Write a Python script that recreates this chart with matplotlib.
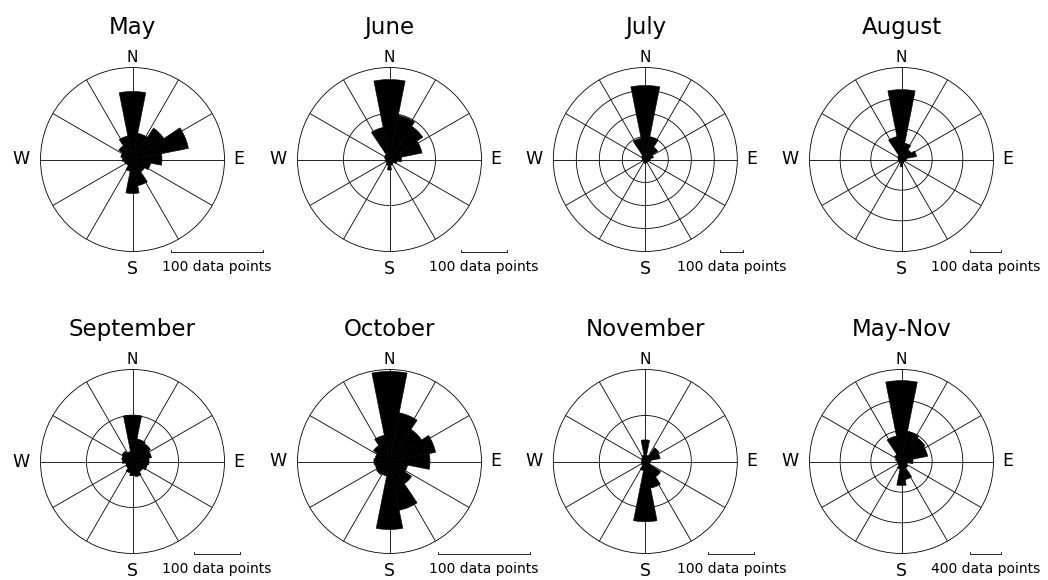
import numpy as np
import matplotlib
matplotlib.use("Agg")
import matplotlib.pyplot as plt

# Sixteen compass sectors, clockwise from north
directions = ["N", "NNE", "NE", "ENE", "E", "ESE", "SE", "SSE",
              "S", "SSW", "SW", "WSW", "W", "WNW", "NW", "NNW"]

titles = ["May", "June", "July", "August",
          "September", "October", "November", "May-Nov"]

# Counts of data points per direction sector
may = [74, 29, 41, 62, 32, 20, 16, 29, 37, 13, 8, 9, 11, 13, 18, 26]
june = [174, 98, 87, 72, 26, 17, 11, 13, 23, 13, 9, 7, 9, 11, 13, 71]
july = [322, 101, 65, 36, 22, 15, 12, 15, 18, 12, 10, 10, 12, 15, 20, 94]
august = [228, 54, 38, 50, 16, 12, 10, 12, 24, 12, 10, 8, 10, 12, 15, 76]
september = [101, 50, 47, 42, 36, 33, 27, 34, 31, 25, 17, 15, 22, 24, 27, 22]
october = [98, 54, 42, 51, 44, 20, 29, 54, 74, 16, 17, 16, 17, 16, 21, 29]
november = [47, 14, 36, 33, 12, 10, 40, 59, 131, 20, 10, 8, 8, 8, 10, 14]
may_nov = [1056, 400, 370, 348, 150, 80, 100, 240, 313, 100, 60, 50, 60, 80, 109, 339]

series = [may, june, july, august, september, october, november, may_nov]

# Outer circle value and ring spacing (also the scale-bar length)
outer_limits = [100, 200, 400, 300, 200, 100, 200, 1200]
ring_steps = [100, 100, 100, 100, 100, 100, 100, 400]

W, H = 1048, 580
R_PX = 92
col_cx = [132.5, 389.5, 645.3, 901.5]
row_cy = [159.5, 461.5]
scale_dx = [84, 94, 86, 84]

fig = plt.figure(figsize=(W / 100, H / 100), dpi=100)
fig.patch.set_facecolor("white")

theta = np.deg2rad(np.arange(16) * 22.5)
width = np.deg2rad(22.5)
ring_theta = np.linspace(0, 2 * np.pi, 361)
font = "DejaVu Sans"
line_kw = dict(color="black", lw=0.6)

for i, (title, vals) in enumerate(zip(titles, series)):
    row, col = divmod(i, 4)
    cx, cy = col_cx[col], row_cy[row]
    ax = fig.add_axes([(cx - R_PX) / W, 1 - (cy + R_PX) / H,
                       2 * R_PX / W, 2 * R_PX / H], projection="polar")
    ax.set_theta_zero_location("N")
    ax.set_theta_direction(-1)
    rmax = outer_limits[i]
    step = ring_steps[i]

    # spokes every 30 degrees and rings at each step
    for a in np.deg2rad(np.arange(0, 360, 30)):
        ax.plot([a, a], [0, rmax], zorder=1, **line_kw)
    for r in np.arange(step, rmax, step):
        ax.plot(ring_theta, np.full_like(ring_theta, r), zorder=1, **line_kw)

    ax.bar(theta, vals, width=width, color="black", edgecolor="black",
           linewidth=0.4, align="center", zorder=2)

    ax.set_ylim(0, rmax)
    ax.set_xticks([])
    ax.set_yticks([])
    ax.grid(False)
    ax.spines["polar"].set_linewidth(0.6)
    ax.spines["polar"].set_color("black")

    # title and compass letters
    ax.text(0.5, 0.5 + 132 / (2 * R_PX), title, transform=ax.transAxes,
            ha="center", va="center", fontsize=16.5, family=font)
    ax.text(0.5, 0.5 + 102 / (2 * R_PX), "N", transform=ax.transAxes,
            ha="center", va="center", fontsize=11, family=font)
    ax.text(0.5 + 106.5 / (2 * R_PX), 0.5, "E", transform=ax.transAxes,
            ha="center", va="center", fontsize=12.5, family=font)
    ax.text(0.5 - 111.5 / (2 * R_PX), 0.5, "W", transform=ax.transAxes,
            ha="center", va="center", fontsize=12.5, family=font)
    ax.text(0.5, 0.5 - 109 / (2 * R_PX), "S", transform=ax.transAxes,
            ha="center", va="center", fontsize=12.5, family=font)

    # scale bar
    bar_len = step / rmax * 0.5
    bx = 0.5 + scale_dx[col] / (2 * R_PX)
    tick = 2.0 / (2 * R_PX)
    ax.plot([bx - bar_len / 2, bx - bar_len / 2, bx + bar_len / 2, bx + bar_len / 2],
            [tick, 0, 0, tick], transform=ax.transAxes, clip_on=False, **line_kw)
    ax.text(bx, 0.5 - 107.5 / (2 * R_PX), f"{step} data points",
            transform=ax.transAxes, ha="center", va="center",
            fontsize=10, family=font)

fig.savefig("out.png", dpi=100, facecolor="white")
